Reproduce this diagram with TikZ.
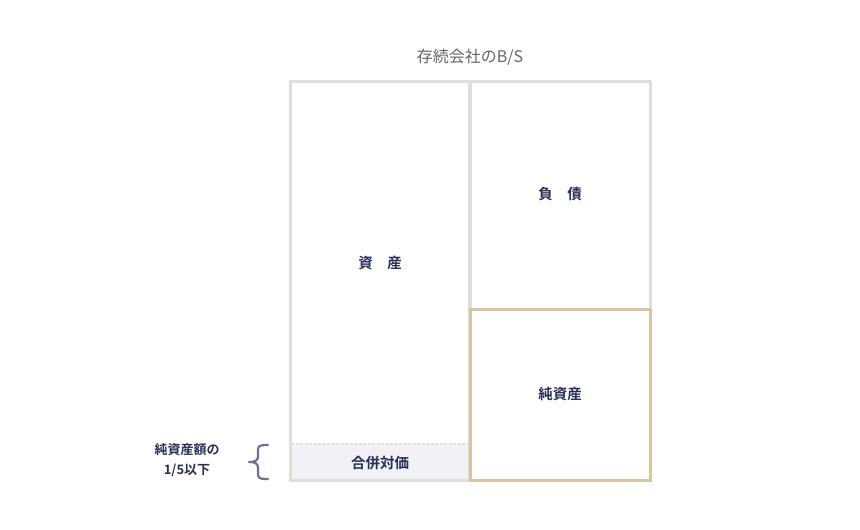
\documentclass[tikz,border=0pt]{standalone}
\usepackage{fontspec}
\newfontfamily\jp{Noto Sans CJK JP}
\newfontfamily\jpb{Noto Sans CJK JP Bold}
\definecolor{boxgray}{HTML}{DEDEDE}
\definecolor{gold}{HTML}{D3C6A0}
\definecolor{navy}{HTML}{2B2E57}
\definecolor{titlegray}{HTML}{666666}
\definecolor{fillgray}{HTML}{F1F1F6}
\definecolor{bracegray}{HTML}{6E7190}
\tikzset{
  lbl/.style={font=\jpb\fontsize{14.5}{16}\selectfont, text=navy, inner sep=0pt},
  box/.style={draw=boxgray, line width=3pt},
}
\begin{document}
\begin{tikzpicture}[x=1pt,y=-1pt]
\useasboundingbox (0,0) rectangle (860,530);
\fill[white] (0,0) rectangle (860,530);
% merger consideration region
\fill[fillgray] (290,444) rectangle (469,480);
\draw[boxgray, line width=1.8pt, dash pattern=on 3pt off 1.5pt] (291,444) -- (469,444);
% boxes
\draw[box] (290,81) rectangle (469,480);
\draw[box] (470,81) rectangle (650,309);
\draw[draw=gold, line width=3pt] (470,309) rectangle (650,480);
% texts
\node[font=\jp\fontsize{16}{18}\selectfont, text=titlegray, inner sep=0pt] (title) at (470,57) {存続会社のB/S};
\node[lbl] (asset) at (380,263) {資\hspace{1em}産};
\node[lbl] (liab) at (560,194) {負\hspace{1em}債};
\node[lbl] (net) at (560,394) {純資産};
\node[lbl] (merge) at (380,463) {合併対価};
\node[lbl, font=\jpb\fontsize{13}{15}\selectfont, align=center] (note) at (187,460) {純資産額の\\[5pt]1/5以下};
% brace
\draw[bracegray, line width=2.2pt, line cap=round, line join=round]
  (268,445) .. controls (258,445) and (258,446) .. (258,452)
  -- (258,456) .. controls (258,460) and (256,462) .. (249,462)
  .. controls (256,462) and (258,464) .. (258,468)
  -- (258,472) .. controls (258,478) and (258,479) .. (268,479);
\end{tikzpicture}
\end{document}
